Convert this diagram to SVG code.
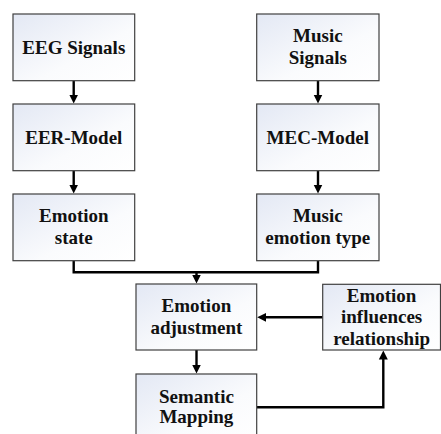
<svg xmlns="http://www.w3.org/2000/svg" width="441" height="434" viewBox="0 0 441 434">
<defs>
<linearGradient id="bg" x1="0" y1="0" x2="1" y2="1">
<stop offset="0" stop-color="#e3e8f4"/>
<stop offset="0.6" stop-color="#fafbfd"/>
<stop offset="1" stop-color="#ffffff"/>
</linearGradient>
<marker id="ah" viewBox="0 0 10 10" refX="5" refY="5" markerWidth="9" markerHeight="10" markerUnits="userSpaceOnUse" orient="auto">
<path d="M0,0 L10,5 L0,10 z" fill="#000"/>
</marker>
<style>
.box{fill:url(#bg);stroke:#404040;stroke-width:1.2}
.t{font-family:"Liberation Serif","Times New Roman",serif;font-weight:bold;font-size:19px;fill:#111;text-anchor:middle}
.c{fill:none;stroke:#000;stroke-width:2.4}
</style>
</defs>
<rect width="441" height="434" fill="#fff"/>
<g id="connectors">
<line class="c" x1="73.7" y1="80.7" x2="73.7" y2="99" marker-end="url(#ah)"/>
<line class="c" x1="73.7" y1="170.7" x2="73.7" y2="189" marker-end="url(#ah)"/>
<line class="c" x1="318" y1="80.7" x2="318" y2="99" marker-end="url(#ah)"/>
<line class="c" x1="318" y1="170.7" x2="318" y2="189" marker-end="url(#ah)"/>
<polyline class="c" points="73.7,260.7 73.7,272.3 318,272.3 318,260.7"/>
<line class="c" x1="196.5" y1="272.3" x2="196.5" y2="279" marker-end="url(#ah)"/>
<line class="c" x1="196.5" y1="350" x2="196.5" y2="369" marker-end="url(#ah)"/>
<line class="c" x1="322.7" y1="317.3" x2="261.7" y2="317.3" marker-end="url(#ah)"/>
<polyline class="c" points="256.7,407.3 383.3,407.3 383.3,355" marker-end="url(#ah)"/>
</g>
<g id="eeg-signals">
<rect class="box" x="13" y="14" width="121.7" height="66.7"/>
<text class="t" x="73.8" y="53.5">EEG Signals</text>
</g>
<g id="eer-model">
<rect class="box" x="13" y="104" width="121.7" height="66.7"/>
<text class="t" x="73.8" y="143.5">EER-Model</text>
</g>
<g id="emotion-state">
<rect class="box" x="13" y="194" width="121.7" height="66.7"/>
<text class="t" x="73.8" y="222.4">Emotion</text>
<text class="t" x="73.8" y="244">state</text>
</g>
<g id="music-signals">
<rect class="box" x="256.7" y="14" width="122.3" height="66.7"/>
<text class="t" x="317.8" y="42.4">Music</text>
<text class="t" x="317.8" y="64">Signals</text>
</g>
<g id="mec-model">
<rect class="box" x="256.7" y="104" width="122.3" height="66.7"/>
<text class="t" x="317.8" y="143.5">MEC-Model</text>
</g>
<g id="music-emotion-type">
<rect class="box" x="256.7" y="194" width="122.3" height="66.7"/>
<text class="t" x="317.8" y="222.4">Music</text>
<text class="t" x="317.8" y="244">emotion type</text>
</g>
<g id="emotion-adjustment">
<rect class="box" x="136" y="284" width="120.7" height="66"/>
<text class="t" x="196.4" y="312">Emotion</text>
<text class="t" x="196.4" y="333.5">adjustment</text>
</g>
<g id="semantic-mapping">
<rect class="box" x="136" y="374" width="120.7" height="70"/>
<text class="t" x="196.4" y="402.7">Semantic</text>
<text class="t" x="196.4" y="422.7">Mapping</text>
</g>
<g id="emotion-influences">
<rect class="box" x="322.7" y="284.3" width="117.8" height="65.7"/>
<text class="t" x="381.6" y="301.5">Emotion</text>
<text class="t" x="381.6" y="323">influences</text>
<text class="t" x="381.6" y="344.5">relationship</text>
</g>
</svg>
